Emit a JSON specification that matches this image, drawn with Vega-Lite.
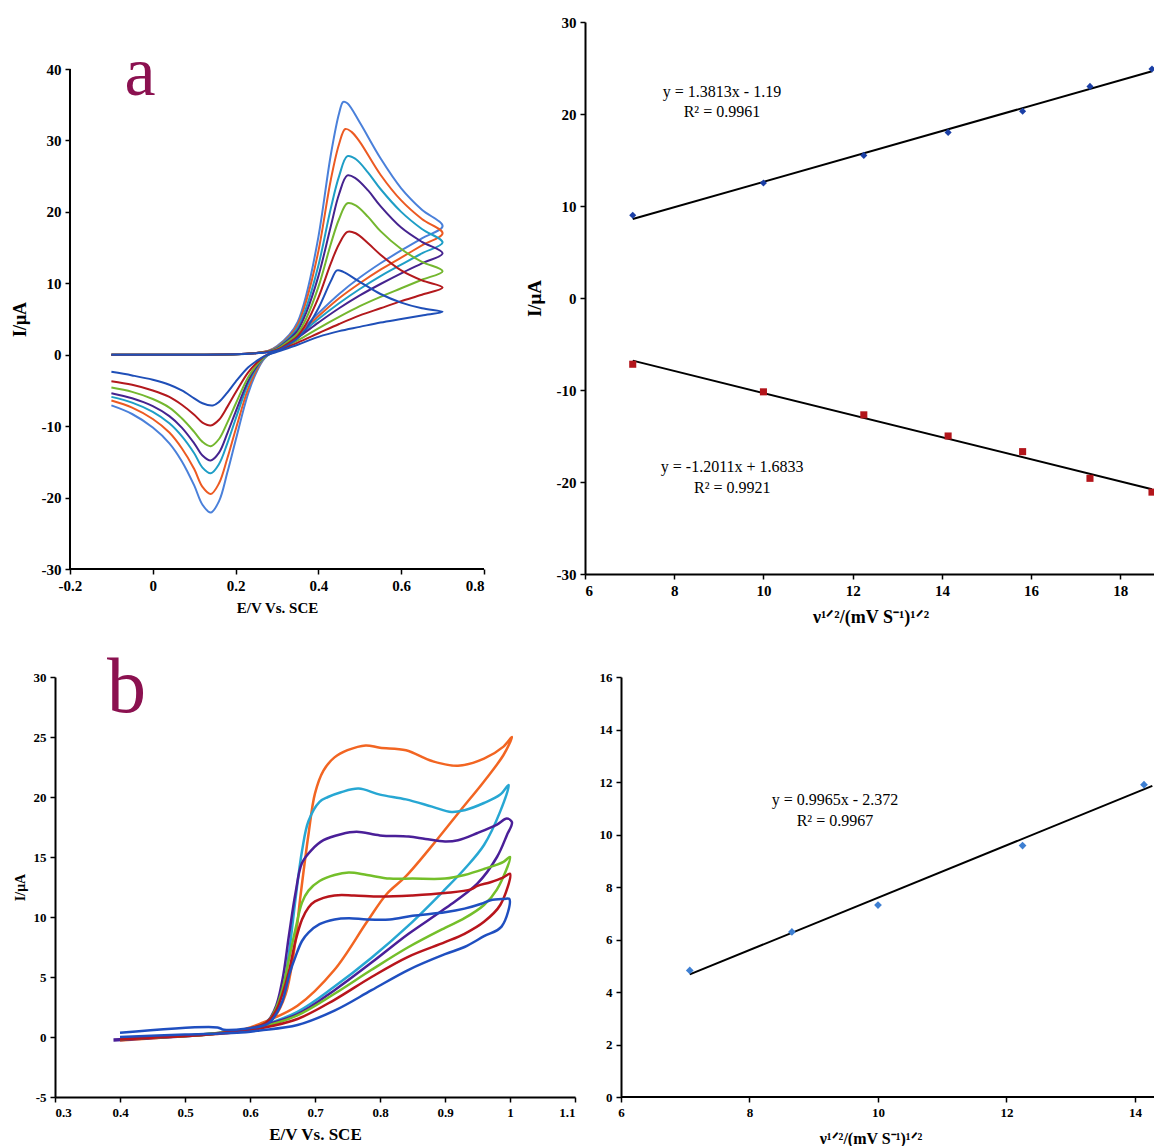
{
  "$schema": "https://vega.github.io/schema/vega-lite/v6.json",
  "background": "white",
  "padding": {"left": 11, "top": 15, "right": 0, "bottom": 0},
  "columns": 2,
  "align": "each",
  "bounds": "flush",
  "spacing": {"row": 103, "column": 10},
  "resolve": {"scale": {"color": "independent", "shape": "independent"}},
  "config": {
    "view": {"stroke": null},
    "font": "Liberation Serif",
    "axis": {
      "grid": false,
      "domainColor": "black",
      "domainWidth": 2,
      "tickColor": "black",
      "tickWidth": 1.5,
      "tickSize": 5,
      "labelFont": "Liberation Serif",
      "labelFontWeight": "bold",
      "labelColor": "black",
      "labelFontSize": 15,
      "labelPadding": 4,
      "titleFont": "Liberation Serif",
      "titleFontWeight": "bold",
      "titleColor": "black",
      "labelExpr": "replace(datum.label, '\u2212', '-')"
    }
  },
  "datasets": {
    "cvA": [
      {"s":"a1","x":-0.1,"y":0},{"s":"a1","x":0.1,"y":0},{"s":"a1","x":0.2,"y":0.05},{"s":"a1","x":0.25,"y":0.25},{"s":"a1","x":0.28,"y":0.55},
      {"s":"a1","x":0.3,"y":1.2},{"s":"a1","x":0.33,"y":2.8},{"s":"a1","x":0.35,"y":4.6},{"s":"a1","x":0.37,"y":8.2},{"s":"a1","x":0.4,"y":16.5},{"s":"a1","x":0.43,"y":28},{"s":"a1","x":0.45,"y":33.8},{"s":"a1","x":0.46,"y":35.4},{"s":"a1","x":0.47,"y":35.2},{"s":"a1","x":0.5,"y":32.5},{"s":"a1","x":0.55,"y":27.5},{"s":"a1","x":0.6,"y":23.3},{"s":"a1","x":0.65,"y":20.3},{"s":"a1","x":0.7,"y":18},
      {"s":"a1","x":0.65,"y":16.3},{"s":"a1","x":0.6,"y":14.6},{"s":"a1","x":0.55,"y":12.8},{"s":"a1","x":0.5,"y":10.8},{"s":"a1","x":0.45,"y":8.5},{"s":"a1","x":0.4,"y":5.8},{"s":"a1","x":0.35,"y":3.0},{"s":"a1","x":0.3,"y":0.8},{"s":"a1","x":0.27,"y":-0.5},{"s":"a1","x":0.25,"y":-2.5},{"s":"a1","x":0.23,"y":-5.5},{"s":"a1","x":0.2,"y":-12},{"s":"a1","x":0.18,"y":-16.5},{"s":"a1","x":0.16,"y":-20.5},{"s":"a1","x":0.14,"y":-22.1},{"s":"a1","x":0.12,"y":-21},{"s":"a1","x":0.1,"y":-18.3},{"s":"a1","x":0.07,"y":-14.9},{"s":"a1","x":0.04,"y":-12.4},{"s":"a1","x":0,"y":-10.2},{"s":"a1","x":-0.05,"y":-8.3},{"s":"a1","x":-0.1,"y":-7.1},

      {"s":"a2","x":-0.1,"y":0},{"s":"a2","x":0.1,"y":0},{"s":"a2","x":0.2,"y":0.05},{"s":"a2","x":0.25,"y":0.25},{"s":"a2","x":0.28,"y":0.55},
      {"s":"a2","x":0.3,"y":1.1},{"s":"a2","x":0.33,"y":2.6},{"s":"a2","x":0.35,"y":4.2},{"s":"a2","x":0.37,"y":7.4},{"s":"a2","x":0.4,"y":14.5},{"s":"a2","x":0.43,"y":24.5},{"s":"a2","x":0.45,"y":29.5},{"s":"a2","x":0.465,"y":31.6},{"s":"a2","x":0.48,"y":31.2},{"s":"a2","x":0.5,"y":29.8},{"s":"a2","x":0.55,"y":25.2},{"s":"a2","x":0.6,"y":21.6},{"s":"a2","x":0.65,"y":19},{"s":"a2","x":0.7,"y":17},
      {"s":"a2","x":0.65,"y":15.3},{"s":"a2","x":0.6,"y":13.6},{"s":"a2","x":0.55,"y":11.9},{"s":"a2","x":0.5,"y":10},{"s":"a2","x":0.45,"y":7.9},{"s":"a2","x":0.4,"y":5.4},{"s":"a2","x":0.35,"y":2.8},{"s":"a2","x":0.3,"y":0.8},{"s":"a2","x":0.27,"y":-0.4},{"s":"a2","x":0.25,"y":-2.2},{"s":"a2","x":0.23,"y":-4.8},{"s":"a2","x":0.2,"y":-10.5},{"s":"a2","x":0.18,"y":-14.5},{"s":"a2","x":0.16,"y":-18},{"s":"a2","x":0.14,"y":-19.5},{"s":"a2","x":0.12,"y":-18.5},{"s":"a2","x":0.1,"y":-16},{"s":"a2","x":0.07,"y":-13.1},{"s":"a2","x":0.04,"y":-10.9},{"s":"a2","x":0,"y":-9},{"s":"a2","x":-0.05,"y":-7.4},{"s":"a2","x":-0.1,"y":-6.4},

      {"s":"a3","x":-0.1,"y":0},{"s":"a3","x":0.1,"y":0},{"s":"a3","x":0.2,"y":0.05},{"s":"a3","x":0.25,"y":0.25},{"s":"a3","x":0.28,"y":0.5},
      {"s":"a3","x":0.3,"y":1.0},{"s":"a3","x":0.33,"y":2.4},{"s":"a3","x":0.35,"y":3.8},{"s":"a3","x":0.37,"y":6.5},{"s":"a3","x":0.4,"y":12.5},{"s":"a3","x":0.43,"y":20.5},{"s":"a3","x":0.45,"y":25},{"s":"a3","x":0.47,"y":27.8},{"s":"a3","x":0.49,"y":27.4},{"s":"a3","x":0.52,"y":25.5},{"s":"a3","x":0.55,"y":23.2},{"s":"a3","x":0.6,"y":20},{"s":"a3","x":0.65,"y":17.6},{"s":"a3","x":0.7,"y":15.7},
      {"s":"a3","x":0.65,"y":14.2},{"s":"a3","x":0.6,"y":12.6},{"s":"a3","x":0.55,"y":11},{"s":"a3","x":0.5,"y":9.2},{"s":"a3","x":0.45,"y":7.2},{"s":"a3","x":0.4,"y":5},{"s":"a3","x":0.35,"y":2.6},{"s":"a3","x":0.3,"y":0.7},{"s":"a3","x":0.27,"y":-0.4},{"s":"a3","x":0.25,"y":-1.9},{"s":"a3","x":0.23,"y":-4.1},{"s":"a3","x":0.2,"y":-9},{"s":"a3","x":0.18,"y":-12.4},{"s":"a3","x":0.16,"y":-15.3},{"s":"a3","x":0.14,"y":-16.6},{"s":"a3","x":0.12,"y":-15.8},{"s":"a3","x":0.1,"y":-13.8},{"s":"a3","x":0.07,"y":-11.4},{"s":"a3","x":0.04,"y":-9.6},{"s":"a3","x":0,"y":-8},{"s":"a3","x":-0.05,"y":-6.7},{"s":"a3","x":-0.1,"y":-5.9},

      {"s":"a4","x":-0.1,"y":0},{"s":"a4","x":0.1,"y":0},{"s":"a4","x":0.2,"y":0.05},{"s":"a4","x":0.25,"y":0.25},{"s":"a4","x":0.28,"y":0.5},
      {"s":"a4","x":0.3,"y":0.9},{"s":"a4","x":0.33,"y":2.2},{"s":"a4","x":0.35,"y":3.4},{"s":"a4","x":0.37,"y":5.8},{"s":"a4","x":0.4,"y":11},{"s":"a4","x":0.43,"y":18},{"s":"a4","x":0.45,"y":22.5},{"s":"a4","x":0.47,"y":25.1},{"s":"a4","x":0.49,"y":24.7},{"s":"a4","x":0.52,"y":23},{"s":"a4","x":0.55,"y":20.8},{"s":"a4","x":0.6,"y":17.8},{"s":"a4","x":0.65,"y":15.8},{"s":"a4","x":0.7,"y":14.2},
      {"s":"a4","x":0.65,"y":12.8},{"s":"a4","x":0.6,"y":11.4},{"s":"a4","x":0.55,"y":9.9},{"s":"a4","x":0.5,"y":8.3},{"s":"a4","x":0.45,"y":6.5},{"s":"a4","x":0.4,"y":4.5},{"s":"a4","x":0.35,"y":2.4},{"s":"a4","x":0.3,"y":0.7},{"s":"a4","x":0.27,"y":-0.3},{"s":"a4","x":0.25,"y":-1.7},{"s":"a4","x":0.23,"y":-3.7},{"s":"a4","x":0.2,"y":-8},{"s":"a4","x":0.18,"y":-11},{"s":"a4","x":0.16,"y":-13.7},{"s":"a4","x":0.14,"y":-14.8},{"s":"a4","x":0.12,"y":-14.1},{"s":"a4","x":0.1,"y":-12.4},{"s":"a4","x":0.07,"y":-10.2},{"s":"a4","x":0.04,"y":-8.6},{"s":"a4","x":0,"y":-7.2},{"s":"a4","x":-0.05,"y":-6.1},{"s":"a4","x":-0.1,"y":-5.4},

      {"s":"a5","x":-0.1,"y":0},{"s":"a5","x":0.1,"y":0},{"s":"a5","x":0.2,"y":0.05},{"s":"a5","x":0.25,"y":0.25},{"s":"a5","x":0.28,"y":0.45},
      {"s":"a5","x":0.3,"y":0.8},{"s":"a5","x":0.33,"y":2},{"s":"a5","x":0.35,"y":3},{"s":"a5","x":0.37,"y":5},{"s":"a5","x":0.4,"y":9.5},{"s":"a5","x":0.43,"y":15.5},{"s":"a5","x":0.45,"y":19},{"s":"a5","x":0.47,"y":21.2},{"s":"a5","x":0.49,"y":20.9},{"s":"a5","x":0.52,"y":19.3},{"s":"a5","x":0.55,"y":17.3},{"s":"a5","x":0.6,"y":14.8},{"s":"a5","x":0.65,"y":13},{"s":"a5","x":0.7,"y":11.7},
      {"s":"a5","x":0.65,"y":10.5},{"s":"a5","x":0.6,"y":9.3},{"s":"a5","x":0.55,"y":8.1},{"s":"a5","x":0.5,"y":6.8},{"s":"a5","x":0.45,"y":5.3},{"s":"a5","x":0.4,"y":3.7},{"s":"a5","x":0.35,"y":2},{"s":"a5","x":0.3,"y":0.6},{"s":"a5","x":0.27,"y":-0.3},{"s":"a5","x":0.25,"y":-1.5},{"s":"a5","x":0.23,"y":-3.2},{"s":"a5","x":0.2,"y":-6.9},{"s":"a5","x":0.18,"y":-9.5},{"s":"a5","x":0.16,"y":-11.8},{"s":"a5","x":0.14,"y":-12.8},{"s":"a5","x":0.12,"y":-12.2},{"s":"a5","x":0.1,"y":-10.8},{"s":"a5","x":0.07,"y":-8.9},{"s":"a5","x":0.04,"y":-7.4},{"s":"a5","x":0,"y":-6.2},{"s":"a5","x":-0.05,"y":-5.2},{"s":"a5","x":-0.1,"y":-4.6},

      {"s":"a6","x":-0.1,"y":0},{"s":"a6","x":0.1,"y":0},{"s":"a6","x":0.2,"y":0.05},{"s":"a6","x":0.25,"y":0.2},{"s":"a6","x":0.28,"y":0.4},
      {"s":"a6","x":0.3,"y":0.7},{"s":"a6","x":0.33,"y":1.7},{"s":"a6","x":0.35,"y":2.6},{"s":"a6","x":0.37,"y":4.3},{"s":"a6","x":0.4,"y":8},{"s":"a6","x":0.43,"y":12.8},{"s":"a6","x":0.45,"y":15.5},{"s":"a6","x":0.47,"y":17.2},{"s":"a6","x":0.49,"y":17},{"s":"a6","x":0.52,"y":15.6},{"s":"a6","x":0.55,"y":14},{"s":"a6","x":0.6,"y":11.8},{"s":"a6","x":0.65,"y":10.4},{"s":"a6","x":0.7,"y":9.4},
      {"s":"a6","x":0.65,"y":8.4},{"s":"a6","x":0.6,"y":7.5},{"s":"a6","x":0.55,"y":6.5},{"s":"a6","x":0.5,"y":5.5},{"s":"a6","x":0.45,"y":4.3},{"s":"a6","x":0.4,"y":3},{"s":"a6","x":0.35,"y":1.7},{"s":"a6","x":0.3,"y":0.5},{"s":"a6","x":0.27,"y":-0.2},{"s":"a6","x":0.25,"y":-1.2},{"s":"a6","x":0.23,"y":-2.5},{"s":"a6","x":0.2,"y":-5.3},{"s":"a6","x":0.18,"y":-7.3},{"s":"a6","x":0.16,"y":-9.1},{"s":"a6","x":0.14,"y":-9.9},{"s":"a6","x":0.12,"y":-9.5},{"s":"a6","x":0.1,"y":-8.4},{"s":"a6","x":0.07,"y":-7},{"s":"a6","x":0.04,"y":-5.9},{"s":"a6","x":0,"y":-5},{"s":"a6","x":-0.05,"y":-4.2},{"s":"a6","x":-0.1,"y":-3.7},

      {"s":"a7","x":-0.1,"y":0},{"s":"a7","x":0.1,"y":0},{"s":"a7","x":0.2,"y":0.05},{"s":"a7","x":0.25,"y":0.2},{"s":"a7","x":0.28,"y":0.35},
      {"s":"a7","x":0.3,"y":0.6},{"s":"a7","x":0.33,"y":1.5},{"s":"a7","x":0.35,"y":2.3},{"s":"a7","x":0.37,"y":3.6},{"s":"a7","x":0.4,"y":6.5},{"s":"a7","x":0.43,"y":10.3},{"s":"a7","x":0.445,"y":11.8},{"s":"a7","x":0.46,"y":11.6},{"s":"a7","x":0.5,"y":10.2},{"s":"a7","x":0.55,"y":8.5},{"s":"a7","x":0.6,"y":7.3},{"s":"a7","x":0.65,"y":6.5},{"s":"a7","x":0.7,"y":6},
      {"s":"a7","x":0.65,"y":5.5},{"s":"a7","x":0.6,"y":5},{"s":"a7","x":0.55,"y":4.5},{"s":"a7","x":0.5,"y":3.9},{"s":"a7","x":0.45,"y":3.3},{"s":"a7","x":0.4,"y":2.5},{"s":"a7","x":0.35,"y":1.4},{"s":"a7","x":0.3,"y":0.4},{"s":"a7","x":0.27,"y":-0.2},{"s":"a7","x":0.25,"y":-0.9},{"s":"a7","x":0.23,"y":-1.8},{"s":"a7","x":0.2,"y":-3.8},{"s":"a7","x":0.18,"y":-5.3},{"s":"a7","x":0.16,"y":-6.6},{"s":"a7","x":0.145,"y":-7.1},{"s":"a7","x":0.12,"y":-6.8},{"s":"a7","x":0.1,"y":-6.1},{"s":"a7","x":0.07,"y":-5},{"s":"a7","x":0.04,"y":-4.2},{"s":"a7","x":0,"y":-3.5},{"s":"a7","x":-0.05,"y":-2.9},{"s":"a7","x":-0.1,"y":-2.4}
    ],
    "cvB": [
      {"s":"b1","x":0.4,"y":-0.3},{"s":"b1","x":0.5,"y":0.1},{"s":"b1","x":0.58,"y":0.5},{"s":"b1","x":0.615,"y":1.1},{"s":"b1","x":0.673,"y":2.6},{"s":"b1","x":0.73,"y":5.6},{"s":"b1","x":0.78,"y":9.6},{"s":"b1","x":0.81,"y":11.9},{"s":"b1","x":0.84,"y":13.4},{"s":"b1","x":0.887,"y":16.4},{"s":"b1","x":0.924,"y":18.9},{"s":"b1","x":0.96,"y":21.3},{"s":"b1","x":0.99,"y":23.5},{"s":"b1","x":1.003,"y":25},
      {"s":"b1","x":0.99,"y":24.2},{"s":"b1","x":0.96,"y":23.2},{"s":"b1","x":0.92,"y":22.6},{"s":"b1","x":0.88,"y":23},{"s":"b1","x":0.84,"y":23.9},{"s":"b1","x":0.8,"y":24.1},{"s":"b1","x":0.778,"y":24.3},{"s":"b1","x":0.75,"y":23.9},{"s":"b1","x":0.73,"y":23.3},{"s":"b1","x":0.713,"y":22.2},{"s":"b1","x":0.7,"y":20.3},{"s":"b1","x":0.69,"y":16.9},{"s":"b1","x":0.678,"y":11.9},{"s":"b1","x":0.667,"y":6.9},{"s":"b1","x":0.655,"y":3.6},{"s":"b1","x":0.638,"y":1.7},{"s":"b1","x":0.615,"y":0.8},{"s":"b1","x":0.55,"y":0.3},{"s":"b1","x":0.4,"y":-0.2},

      {"s":"b2","x":0.4,"y":-0.2},{"s":"b2","x":0.5,"y":0.1},{"s":"b2","x":0.58,"y":0.5},{"s":"b2","x":0.615,"y":0.9},{"s":"b2","x":0.673,"y":2.1},{"s":"b2","x":0.73,"y":4.2},{"s":"b2","x":0.787,"y":6.6},{"s":"b2","x":0.844,"y":9.3},{"s":"b2","x":0.9,"y":12.3},{"s":"b2","x":0.93,"y":14},{"s":"b2","x":0.96,"y":16},{"s":"b2","x":0.985,"y":18.8},{"s":"b2","x":0.998,"y":21},
      {"s":"b2","x":0.985,"y":20.2},{"s":"b2","x":0.96,"y":19.5},{"s":"b2","x":0.93,"y":18.9},{"s":"b2","x":0.91,"y":18.75},{"s":"b2","x":0.88,"y":19.2},{"s":"b2","x":0.84,"y":19.8},{"s":"b2","x":0.8,"y":20.2},{"s":"b2","x":0.767,"y":20.7},{"s":"b2","x":0.74,"y":20.4},{"s":"b2","x":0.72,"y":20},{"s":"b2","x":0.707,"y":19.6},{"s":"b2","x":0.69,"y":18},{"s":"b2","x":0.68,"y":15.5},{"s":"b2","x":0.67,"y":11.5},{"s":"b2","x":0.66,"y":7},{"s":"b2","x":0.65,"y":3.8},{"s":"b2","x":0.635,"y":1.7},{"s":"b2","x":0.615,"y":0.8},{"s":"b2","x":0.55,"y":0.3},{"s":"b2","x":0.4,"y":-0.1},

      {"s":"b3","x":0.39,"y":-0.3},{"s":"b3","x":0.5,"y":0.1},{"s":"b3","x":0.58,"y":0.5},{"s":"b3","x":0.615,"y":0.9},{"s":"b3","x":0.673,"y":1.9},{"s":"b3","x":0.73,"y":3.9},{"s":"b3","x":0.787,"y":6.2},{"s":"b3","x":0.844,"y":8.6},{"s":"b3","x":0.9,"y":10.7},{"s":"b3","x":0.95,"y":12.8},{"s":"b3","x":0.98,"y":15},{"s":"b3","x":0.995,"y":16.8},{"s":"b3","x":1.003,"y":17.9},
      {"s":"b3","x":0.995,"y":18.2},{"s":"b3","x":0.98,"y":17.7},{"s":"b3","x":0.95,"y":17},{"s":"b3","x":0.92,"y":16.4},{"s":"b3","x":0.9,"y":16.3},{"s":"b3","x":0.87,"y":16.5},{"s":"b3","x":0.844,"y":16.7},{"s":"b3","x":0.8,"y":16.8},{"s":"b3","x":0.764,"y":17.1},{"s":"b3","x":0.74,"y":16.9},{"s":"b3","x":0.713,"y":16.4},{"s":"b3","x":0.695,"y":15.6},{"s":"b3","x":0.68,"y":14.5},{"s":"b3","x":0.67,"y":12},{"s":"b3","x":0.66,"y":8.5},{"s":"b3","x":0.65,"y":4.8},{"s":"b3","x":0.638,"y":2.3},{"s":"b3","x":0.62,"y":1},{"s":"b3","x":0.55,"y":0.3},{"s":"b3","x":0.39,"y":-0.2},

      {"s":"b4","x":0.4,"y":-0.2},{"s":"b4","x":0.5,"y":0.1},{"s":"b4","x":0.58,"y":0.5},{"s":"b4","x":0.615,"y":0.8},{"s":"b4","x":0.673,"y":1.8},{"s":"b4","x":0.73,"y":3.6},{"s":"b4","x":0.787,"y":5.6},{"s":"b4","x":0.844,"y":7.5},{"s":"b4","x":0.9,"y":9.1},{"s":"b4","x":0.93,"y":9.9},{"s":"b4","x":0.96,"y":11},{"s":"b4","x":0.98,"y":12.3},{"s":"b4","x":1.0,"y":15},
      {"s":"b4","x":0.99,"y":14.6},{"s":"b4","x":0.96,"y":14},{"s":"b4","x":0.93,"y":13.5},{"s":"b4","x":0.9,"y":13.2},{"s":"b4","x":0.85,"y":13.2},{"s":"b4","x":0.815,"y":13.2},{"s":"b4","x":0.78,"y":13.5},{"s":"b4","x":0.752,"y":13.7},{"s":"b4","x":0.73,"y":13.5},{"s":"b4","x":0.707,"y":13},{"s":"b4","x":0.69,"y":12.2},{"s":"b4","x":0.68,"y":11.2},{"s":"b4","x":0.67,"y":9},{"s":"b4","x":0.66,"y":6.5},{"s":"b4","x":0.65,"y":4},{"s":"b4","x":0.64,"y":2.4},{"s":"b4","x":0.625,"y":1.2},{"s":"b4","x":0.55,"y":0.3},{"s":"b4","x":0.4,"y":-0.1},

      {"s":"b5","x":0.4,"y":-0.2},{"s":"b5","x":0.5,"y":0.1},{"s":"b5","x":0.58,"y":0.4},{"s":"b5","x":0.615,"y":0.7},{"s":"b5","x":0.673,"y":1.5},{"s":"b5","x":0.73,"y":3.1},{"s":"b5","x":0.787,"y":5},{"s":"b5","x":0.844,"y":6.7},{"s":"b5","x":0.9,"y":7.9},{"s":"b5","x":0.93,"y":8.6},{"s":"b5","x":0.96,"y":9.6},{"s":"b5","x":0.985,"y":11},{"s":"b5","x":1.0,"y":13.6},
      {"s":"b5","x":0.99,"y":13.3},{"s":"b5","x":0.97,"y":12.9},{"s":"b5","x":0.95,"y":12.6},{"s":"b5","x":0.94,"y":12.3},{"s":"b5","x":0.9,"y":12},{"s":"b5","x":0.85,"y":11.8},{"s":"b5","x":0.8,"y":11.7},{"s":"b5","x":0.76,"y":11.8},{"s":"b5","x":0.73,"y":11.8},{"s":"b5","x":0.7,"y":11.3},{"s":"b5","x":0.69,"y":10.8},{"s":"b5","x":0.68,"y":9.8},{"s":"b5","x":0.67,"y":8},{"s":"b5","x":0.66,"y":5.5},{"s":"b5","x":0.65,"y":3.6},{"s":"b5","x":0.64,"y":2.2},{"s":"b5","x":0.625,"y":1.2},{"s":"b5","x":0.55,"y":0.3},{"s":"b5","x":0.4,"y":-0.1},

      {"s":"b6","x":0.4,"y":0.0},{"s":"b6","x":0.5,"y":0.2},{"s":"b6","x":0.58,"y":0.35},{"s":"b6","x":0.615,"y":0.55},{"s":"b6","x":0.673,"y":1},{"s":"b6","x":0.73,"y":2.2},{"s":"b6","x":0.787,"y":3.9},{"s":"b6","x":0.844,"y":5.6},{"s":"b6","x":0.9,"y":6.9},{"s":"b6","x":0.93,"y":7.5},{"s":"b6","x":0.96,"y":8.4},{"s":"b6","x":0.987,"y":9.2},{"s":"b6","x":0.999,"y":11.5},
      {"s":"b6","x":0.99,"y":11.5},{"s":"b6","x":0.97,"y":11.4},{"s":"b6","x":0.956,"y":11.1},{"s":"b6","x":0.93,"y":10.7},{"s":"b6","x":0.9,"y":10.4},{"s":"b6","x":0.85,"y":10.1},{"s":"b6","x":0.815,"y":9.8},{"s":"b6","x":0.78,"y":9.8},{"s":"b6","x":0.752,"y":9.9},{"s":"b6","x":0.73,"y":9.8},{"s":"b6","x":0.707,"y":9.4},{"s":"b6","x":0.69,"y":8.7},{"s":"b6","x":0.68,"y":8},{"s":"b6","x":0.67,"y":6.7},{"s":"b6","x":0.661,"y":5.3},{"s":"b6","x":0.65,"y":3},{"s":"b6","x":0.64,"y":1.9},{"s":"b6","x":0.627,"y":1.1},{"s":"b6","x":0.56,"y":0.6},{"s":"b6","x":0.55,"y":0.8},{"s":"b6","x":0.4,"y":0.35}
    ],
    "fitA": [
      {"g":"up","x":7.07,"y":8.58},{"g":"up","x":18.71,"y":24.65},
      {"g":"dn","x":7.07,"y":-6.81},{"g":"dn","x":18.71,"y":-20.79}
    ],
    "ptsA": [
      {"g":"up","x":7.07,"y":9.0},{"g":"up","x":10,"y":12.5},{"g":"up","x":12.25,"y":15.5},{"g":"up","x":14.14,"y":18.0},{"g":"up","x":15.81,"y":20.3},{"g":"up","x":17.32,"y":23.0},{"g":"up","x":18.71,"y":24.9},
      {"g":"dn","x":7.07,"y":-7.2},{"g":"dn","x":10,"y":-10.2},{"g":"dn","x":12.25,"y":-12.7},{"g":"dn","x":14.14,"y":-15.0},{"g":"dn","x":15.81,"y":-16.7},{"g":"dn","x":17.32,"y":-19.6},{"g":"dn","x":18.71,"y":-21.1}
    ],
    "eqA": [
      {"x":9.07,"y":22.4,"t":"y = 1.3813x - 1.19"},
      {"x":9.07,"y":20.2,"t":"R² = 0.9961"},
      {"x":9.3,"y":-18.4,"t":"y = -1.2011x + 1.6833"},
      {"x":9.3,"y":-20.7,"t":"R² = 0.9921"}
    ],
    "fitB": [{"x":7.07,"y":4.67},{"x":14.27,"y":11.85}],
    "ptsB": [{"x":7.07,"y":4.82},{"x":8.66,"y":6.29},{"x":10,"y":7.31},{"x":12.25,"y":9.58},{"x":14.14,"y":11.9}],
    "eqB": [
      {"x":9.33,"y":11.3,"t":"y = 0.9965x - 2.372"},
      {"x":9.33,"y":10.5,"t":"R² = 0.9967"}
    ],
    "axA": [{"x1":-0.2,"x2":0.8,"y1":-30,"y2":-30},{"x1":-0.2,"x2":-0.2,"y1":-30,"y2":40}],
    "axD": [{"x1":6,"x2":14.327,"y1":0,"y2":0}]
  },
  "concat": [
    {
      "width": 429,
      "height": 547,
      "layer": [
        {
          "data": {"name": "cvA"},
          "mark": {"type": "line", "interpolate": "catmull-rom", "strokeWidth": 2},
          "encoding": {
            "x": {"field": "x", "type": "quantitative", "scale": {"domain": [-0.23623, 0.8], "nice": false, "zero": false},
                  "axis": {"values": [-0.2, 0, 0.2, 0.4, 0.6, 0.8], "format": "~g", "domain": false, "title": "E/V Vs. SCE", "titleFontSize": 15, "titlePadding": 7, "titleX": 222}},
            "y": {"field": "y", "type": "quantitative", "scale": {"domain": [-30, 46.58], "nice": false, "zero": false},
                  "axis": {"values": [-30, -20, -10, 0, 10, 20, 30, 40], "format": "d", "domain": false, "offset": -15, "title": "I/μA", "titleFontSize": 18, "titlePadding": 12, "titleY": 297}},
            "color": {"field": "s", "type": "nominal", "legend": null,
                      "scale": {"domain": ["a1","a2","a3","a4","a5","a6","a7"],
                                "range": ["#4a80da","#ec5a22","#1e9ec6","#45238f","#74b72f","#b3191d","#1f4fb8"]}},
            "order": {"value": null}
          }
        },
        {
          "data": {"name": "axA"},
          "mark": {"type": "rule", "color": "black", "strokeWidth": 2},
          "encoding": {
            "x": {"field": "x1", "type": "quantitative"},
            "x2": {"field": "x2"},
            "y": {"field": "y1", "type": "quantitative"},
            "y2": {"field": "y2"}
          }
        },
        {
          "data": {"values": [{"x": -0.031, "y": 36.4, "t": "a"}]},
          "mark": {"type": "text", "fontSize": 70, "font": "Liberation Serif", "color": "#8b1150", "baseline": "alphabetic", "align": "center"},
          "encoding": {
            "x": {"field": "x", "type": "quantitative"},
            "y": {"field": "y", "type": "quantitative"},
            "text": {"field": "t"}
          }
        }
      ]
    },
    {
      "width": 571,
      "height": 552,
      "layer": [
        {
          "data": {"name": "fitA"},
          "mark": {"type": "line", "color": "black", "strokeWidth": 2},
          "encoding": {
            "x": {"field": "x", "type": "quantitative", "scale": {"domain": [6, 18.8], "nice": false, "zero": false},
                  "axis": {"values": [6, 8, 10, 12, 14, 16, 18], "format": "d", "title": "ν¹ᐟ²/(mV S⁻¹)¹ᐟ²", "titleFontSize": 18, "titlePadding": 10}},
            "y": {"field": "y", "type": "quantitative", "scale": {"domain": [-30, 30], "nice": false},
                  "axis": {"values": [-30, -20, -10, 0, 10, 20, 30], "format": "d", "title": "I/μA", "titleFontSize": 19, "titlePadding": 12}},
            "detail": {"field": "g"}
          }
        },
        {
          "data": {"name": "ptsA"},
          "mark": {"type": "point", "filled": true, "opacity": 1},
          "encoding": {
            "x": {"field": "x", "type": "quantitative"},
            "y": {"field": "y", "type": "quantitative"},
            "shape": {"field": "g", "type": "nominal", "legend": null, "scale": {"domain": ["up","dn"], "range": ["diamond","square"]}},
            "color": {"field": "g", "type": "nominal", "legend": null, "scale": {"domain": ["up","dn"], "range": ["#1b3fa6","#b3151b"]}},
            "size": {"value": 50}
          }
        },
        {
          "data": {"name": "eqA"},
          "mark": {"type": "text", "fontSize": 16, "font": "Liberation Serif", "color": "black", "align": "center"},
          "encoding": {
            "x": {"field": "x", "type": "quantitative"},
            "y": {"field": "y", "type": "quantitative"},
            "text": {"field": "t"}
          }
        }
      ]
    },
    {
      "width": 520,
      "height": 420,
      "layer": [
        {
          "data": {"name": "cvB"},
          "mark": {"type": "line", "interpolate": "catmull-rom", "strokeWidth": 2.5},
          "encoding": {
            "x": {"field": "x", "type": "quantitative", "scale": {"domain": [0.3, 1.1], "nice": false, "zero": false},
                  "axis": {"values": [0.3, 0.4, 0.5, 0.6, 0.7, 0.8, 0.9, 1, 1.1], "format": "~g", "title": "E/V Vs. SCE", "titleFontSize": 17, "titlePadding": 7, "labelFontSize": 13}},
            "y": {"field": "y", "type": "quantitative", "scale": {"domain": [-5, 30], "nice": false},
                  "axis": {"values": [-5, 0, 5, 10, 15, 20, 25, 30], "format": "d", "title": "I/μA", "titleFontSize": 14, "titlePadding": 6, "labelFontSize": 13}},
            "color": {"field": "s", "type": "nominal", "legend": null,
                      "scale": {"domain": ["b1","b2","b3","b4","b5","b6"],
                                "range": ["#f26522","#27a7d3","#4a1f98","#74bf2a","#b8151c","#1f4fc0"]}},
            "order": {"value": null}
          }
        },
        {
          "data": {"values": [{"x": 0.41, "y": 27.1, "t": "b"}]},
          "mark": {"type": "text", "fontSize": 78, "font": "Liberation Serif", "color": "#8b1150", "baseline": "alphabetic", "align": "center"},
          "encoding": {
            "x": {"field": "x", "type": "quantitative"},
            "y": {"field": "y", "type": "quantitative"},
            "text": {"field": "t"}
          }
        }
      ]
    },
    {
      "width": 571,
      "height": 420,
      "layer": [
        {
          "data": {"name": "fitB"},
          "mark": {"type": "line", "color": "black", "strokeWidth": 2},
          "encoding": {
            "x": {"field": "x", "type": "quantitative", "scale": {"domain": [5.4397, 14.327], "nice": false, "zero": false},
                  "axis": {"values": [6, 8, 10, 12, 14], "format": "d", "domain": false, "title": "ν¹ᐟ²/(mV S⁻¹)¹ᐟ²", "titleFontSize": 16, "titlePadding": 11, "labelFontSize": 13}},
            "y": {"field": "y", "type": "quantitative", "scale": {"domain": [0, 16], "nice": false},
                  "axis": {"values": [0, 2, 4, 6, 8, 10, 12, 14, 16], "format": "d", "offset": -36, "title": null, "labelFontSize": 13}}
          }
        },
        {
          "data": {"name": "axD"},
          "mark": {"type": "rule", "color": "black", "strokeWidth": 2},
          "encoding": {
            "x": {"field": "x1", "type": "quantitative"},
            "x2": {"field": "x2"},
            "y": {"field": "y1", "type": "quantitative"}
          }
        },
        {
          "data": {"name": "ptsB"},
          "mark": {"type": "point", "filled": true, "opacity": 1, "shape": "diamond", "color": "#3e7fd2", "size": 60},
          "encoding": {
            "x": {"field": "x", "type": "quantitative"},
            "y": {"field": "y", "type": "quantitative"}
          }
        },
        {
          "data": {"name": "eqB"},
          "mark": {"type": "text", "fontSize": 16, "font": "Liberation Serif", "color": "black", "align": "center"},
          "encoding": {
            "x": {"field": "x", "type": "quantitative"},
            "y": {"field": "y", "type": "quantitative"},
            "text": {"field": "t"}
          }
        }
      ]
    }
  ]
}
